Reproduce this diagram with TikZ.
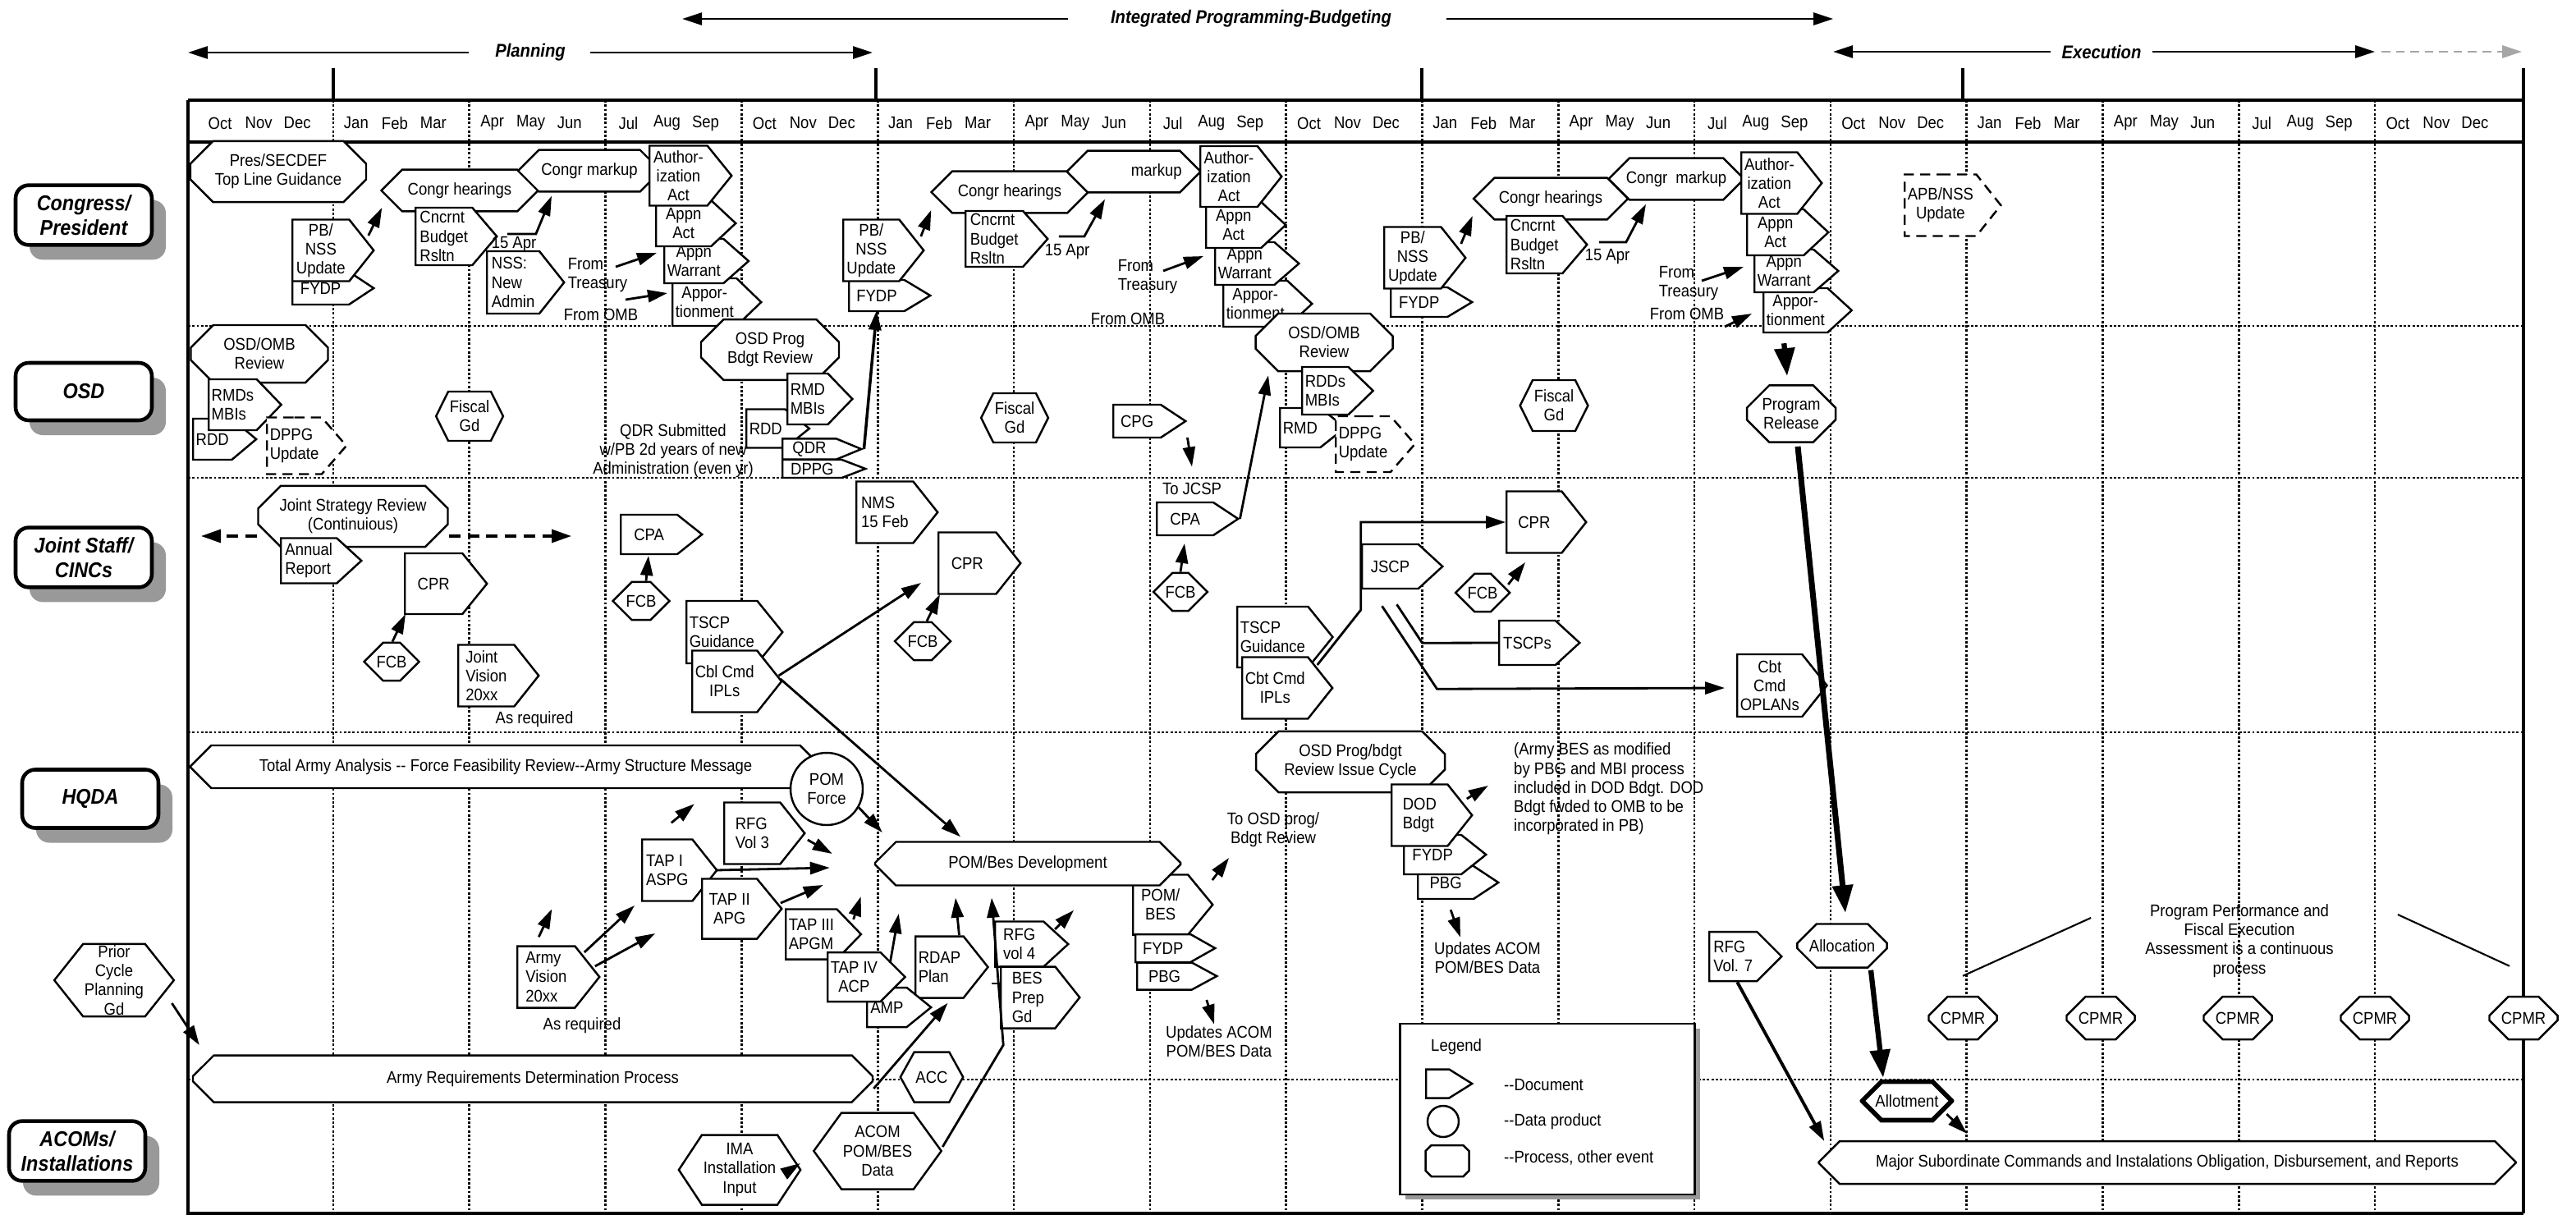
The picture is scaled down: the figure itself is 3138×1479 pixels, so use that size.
\documentclass[tikz,border=0pt]{standalone}
\usepackage{fontspec}
\setmainfont{Liberation Sans}[FakeStretch=0.9]
\usetikzlibrary{shapes.symbols,shapes.misc,arrows.meta,calc,shadows}

\tikzset{
  doc/.style={signal, signal to=east, signal pointer angle=#1, draw, fill=white, line width=0.7pt, inner sep=1pt, anchor=west, align=left},
  doc/.default=100,
  dashdoc/.style={dash pattern=on 3.5pt off 2.2pt},
  hexa/.style={signal, signal to=east and west, signal pointer angle=#1, draw, fill=white, line width=0.7pt, inner sep=0.5pt, align=center},
  hexa/.default=110,
  proc/.style={chamfered rectangle, chamfered rectangle xsep=1.5mm, draw, fill=white, line width=0.7pt, inner sep=1pt, align=center},
  octa/.style={proc, chamfered rectangle xsep=1.1mm},
  datum/.style={circle, draw, fill=white, line width=0.7pt, inner sep=0pt, align=center},
  wh/.style 2 args={minimum width=#1*0.1mm, minimum height=#2*0.1mm},
  lane/.style={draw, rounded corners=1.6mm, line width=1.3pt, fill=white, align=center, font=\fontsize{7.4}{8.6}\selectfont\bfseries\itshape, drop shadow={shadow xshift=1.7mm, shadow yshift=-1.8mm, fill=black!40, opacity=1}},
  phase/.style={font=\fontsize{6.4}{7.4}\selectfont\bfseries\itshape, inner sep=0pt},
  note/.style={align=center, inner sep=1pt},
  month/.style={inner sep=0pt},
  arr/.style={-{Triangle[length=2.4mm,width=1.5mm]}, line width=0.8pt},
  bigarr/.style={-{Triangle[length=3.4mm,width=2.4mm]}, line width=1.8pt},
  dasharr/.style={-{Triangle[length=2.4mm,width=1.6mm]}, line width=0.9pt, dash pattern=on 4pt off 2.5pt},
  lanegrid/.style={dash pattern=on 0.8pt off 0.7pt, line width=0.75pt},
  boxline/.style={line width=1.2pt}
}

\begin{document}
\begin{tikzpicture}[x=0.1mm, y=-0.1mm, every node/.style={font=\fontsize{5.85}{6.6}\selectfont}]

\useasboundingbox (0,0) rectangle (3138,1479);

\foreach \x in {406,1067,1732,2391}
  \draw[line width=1pt] (\x,83) -- (\x,122);
\foreach \y in {397,582,892,1315}
  \draw[lanegrid] (229,\y) -- (3074,\y);
\foreach \k in {0,...,15}
  \draw[lanegrid] (406+165.8*\k,122) -- (406+165.8*\k,1478);
\draw[boxline] (229,122) -- (3074,122);
\draw[boxline] (229,173) -- (3074,173);
\draw[boxline] (229,122) -- (229,1478) -- (3074,1478);
\draw[boxline] (3074,83) -- (3074,1478);

\foreach \i in {0,...,16} {
  \pgfmathtruncatemacro\k{mod(\i,4)}
  \pgfmathsetmacro\qx{398+165.8*(\i-0.5)}
  \node[month] (ma\i) at (\qx-47,150) {\ifcase\k Oct\or Jan\or Apr\or Jul\fi};
  \node[month] (mb\i) at (\qx,150) {\ifcase\k Nov\or Feb\or May\or Aug\fi};
  \node[month] (mc\i) at (\qx+47,150) {\ifcase\k Dec\or Mar\or Jun\or Sep\fi};
}

\node[phase] (plan) at (646,64) {Planning};
\node[phase] (ipb) at (1524,23) {Integrated Programming-Budgeting};
\node[phase] (exe) at (2560,63) {Execution};
\coordinate (planL) at (229,64);
\coordinate (planR) at (1063,64);
\coordinate (ipbL) at (831,23);
\coordinate (ipbR) at (2233,23);
\coordinate (exeL) at (2233,63);
\coordinate (exeR) at (2893,63);
\coordinate (exeG) at (3072,63);
\draw[arr] ($(plan.west)+(-32,0)$) -- (planL);
\draw[arr] ($(plan.east)+(30,0)$) -- (planR);
\draw[arr] ($(ipb.west)+(-51,0)$) -- (ipbL);
\draw[arr] ($(ipb.east)+(66,0)$) -- (ipbR);
\draw[arr] ($(exe.west)+(-13,0)$) -- (exeL);
\draw[arr] ($(exe.east)+(13,0)$) -- (exeR);
\draw[arr, black!35, dash pattern=on 3pt off 2pt] ($(exeR)+(8,0)$) -- (exeG);

\node[lane, wh={166}{70}] (lcong) at (102,262) {Congress/\\President};
\node[lane, wh={166}{70}] (losd) at (102,477) {OSD};
\node[lane, wh={166}{72}] (ljoint) at (102,679) {Joint Staff/\\CINCs};
\node[lane, wh={166}{71}] (lhqda) at (110,973) {HQDA};
\node[lane, wh={166}{72}] (lacom) at (94,1402) {ACOMs/\\Installations};

\node[proc, wh={214}{58}] (tlg) at (339,209) {Pres/SECDEF\\Top Line Guidance};
\node[proc, wh={191}{42}] (hear1) at (560,232) {Congr hearings};
\node[proc, wh={174}{41}] (markup1) at (718,208) {Congr markup};
\node[doc=67, wh={99}{40}, align=center] (fydp1) at (355,351) {FYDP};
\node[doc=103, wh={99}{75}, align=center] (pbnss1) at (355,305) {PB/\\NSS\\Update};
\node[doc=99, wh={99}{70}] (cbr1) at (505,288) {Cncrnt\\Budget\\Rsltn};
\node[doc=103, wh={94}{76}] (nss) at (592,344) {NSS:\\New\\Admin};
\node[note] (apr1) at (626,298) {15 Apr};
\node[note, align=left] (treas1) at (728,335) {From\\Treasury};
\node[note] (omb1) at (732,383) {From OMB};
\node[doc=88, wh={97}{58}, align=center] (apport1) at (818,368) {Appor-\\tionment};
\node[doc=83, wh={97}{54}, align=center] (warr1) at (808,318) {Appn\\Warrant};
\node[doc=86, wh={97}{56}, align=center] (appn1) at (798,272) {Appn\\Act};
\node[doc=102, wh={100}{73}, align=center] (auth1) at (790,214) {Author-\\ization\\Act};

\node[proc, wh={191}{43}] (hear2) at (1230,234) {Congr hearings};
\node[proc, wh={163}{42}] (markup2) at (1381,209) {\phantom{Congr }markup};
\node[doc=62, wh={99}{38}, align=center] (fydp2) at (1033,360) {FYDP};
\node[doc=103, wh={98}{75}, align=center] (pbnss2) at (1026,305) {PB/\\NSS\\Update};
\node[doc=97, wh={100}{68}] (cbr2) at (1175,291) {Cncrnt\\Budget\\Rsltn};
\node[note] (apr2) at (1300,307) {15 Apr};
\node[note, align=left] (treas2) at (1398,337) {From\\Treasury};
\node[note] (omb2) at (1374,388) {From OMB};
\node[doc=86, wh={101}{56}, align=center] (apport2) at (1489,370) {Appor-\\tionment};
\node[doc=82, wh={97}{52}, align=center] (warr2) at (1479,321) {Appn\\Warrant};
\node[doc=86, wh={97}{56}, align=center] (appn2) at (1468,274) {Appn\\Act};
\node[doc=103, wh={99}{74}, align=center] (auth2) at (1461,215) {Author-\\ization\\Act};

\node[proc, wh={188}{41}] (hear3) at (1889,242) {Congr hearings};
\node[proc, wh={165}{42}] (markup3) at (2042,218) {Congr\ \ markup};
\node[doc=62, wh={99}{36}, align=center] (fydp3) at (1693,368) {FYDP};
\node[doc=103, wh={99}{75}, align=center] (pbnss3) at (1685,314) {PB/\\NSS\\Update};
\node[doc=99, wh={98}{70}] (cbr3) at (1834,298) {Cncrnt\\Budget\\Rsltn};
\node[note] (apr3) at (1958,313) {15 Apr};
\node[note, align=left] (treas3) at (2057,345) {From\\Treasury};
\node[note] (omb3) at (2055,382) {From OMB};
\node[doc=85, wh={99}{54}, align=center] (apport3) at (2147,378) {Appor-\\tionment};
\node[doc=82, wh={100}{52}, align=center] (warr3) at (2136,330) {Appn\\Warrant};
\node[doc=86, wh={99}{56}, align=center] (appn3) at (2127,283) {Appn\\Act};
\node[doc=103, wh={98}{75}, align=center] (auth3) at (2120,223) {Author-\\ization\\Act};
\node[doc=103, dashdoc, wh={105}{75}, align=center] (apb) at (2319,250) {APB/NSS\\Update};

\draw[arr] ($(pbnss1.east)+(-8,-18)$) -- ($(hear1.west)+(2,21)$);
\draw[arr] ($(cbr1.east)+(11,-3)$) -- ++(35,0) -- ($(markup1.south)+(-46,4)$);
\draw[arr] ($(treas1.center)+(22,-10)$) -- ($(warr1.west)+(-8,-10)$);
\draw[arr] ($(omb1.center)+(30,-18)$) -- ($(apport1.west)+(-5,-11)$);
\draw[arr] ($(pbnss2.east)+(-5,-17)$) -- ($(hear2.west)+(1,22)$);
\draw[arr] ($(cbr2.east)+(12,-3)$) -- ++(31,0) -- ($(markup2.south)+(-35,7)$);
\draw[arr] ($(treas2.center)+(19,-7)$) -- ($(warr2.west)+(-13,-9)$);
\draw[arr] ($(pbnss3.east)+(-7,-17)$) -- ($(hear3.west)+(0,21)$);
\draw[arr] ($(cbr3.east)+(13,-3)$) -- ++(33,0) -- ($(markup3.south)+(-37,4)$);
\draw[arr] ($(treas3.center)+(16,-3)$) -- ($(warr3.west)+(-12,-5)$);
\draw[arr] ($(omb3.center)+(46,16)$) -- ($(apport3.west)+(-13,4)$);

\node[proc, wh={167}{58}] (osdomb1) at (316,431) {OSD/OMB\\Review};
\node[doc=80, wh={59}{50}] (rdd1) at (234,535) {RDD};
\node[doc=92, wh={79}{62}] (rmds1) at (253,493) {RMDs\\MBIs};
\node[doc=98, dashdoc, wh={84}{69}] (dppg1) at (324,543) {DPPG\\Update};
\node[hexa=127, wh={70}{60}] (fiscal1) at (572,507) {Fiscal\\Gd};
\node[note] (qdrtxt) at (820,549) {QDR Submitted\\w/PB 2d years of new\\Administration (even yr)};
\node[proc, wh={168}{58}] (osdprog) at (938,426) {OSD Prog\\Bdgt Review};
\node[doc=77, wh={58}{47}] (rdd2) at (908,522) {RDD};
\node[doc=92, wh={74}{62}] (rmd2) at (958,486) {RMD\\MBIs};
\node[doc=45, wh={96}{23}] (qdr) at (952,547) {QDR};
\node[doc=42, wh={101}{22}] (dppg2) at (952,571) {DPPG};
\node[hexa=127, wh={70}{60}] (fiscal2) at (1236,509) {Fiscal\\Gd};
\node[doc=67, wh={88}{40}, align=center] (cpg) at (1355,513) {CPG};
\node[proc, wh={167}{58}] (osdomb2) at (1613,417) {OSD/OMB\\Review};
\node[doc=77, wh={67}{48}] (rmd3) at (1558,521) {RMD};
\node[doc=88, wh={77}{58}] (rdds3) at (1585,476) {RDDs\\MBIs};
\node[doc=98, dashdoc, wh={87}{68}] (dppg3) at (1626,541) {DPPG\\Update};
\node[hexa=127, wh={69}{62}] (fiscal3) at (1893,494) {Fiscal\\Gd};
\node[proc, wh={108}{58}] (release) at (2182,504) {Program\\Release};

\node[proc, wh={231}{52}] (jsr) at (430,629) {Joint Strategy Review\\(Continuious)};
\coordinate (jsrL) at (245,653);
\coordinate (jsrR) at (696,653);
\node[doc=85, wh={98}{55}] (annual) at (341,683) {Annual\\Report};
\node[doc=102, wh={100}{74}, align=center] (cpr1) at (492,711) {CPR};
\node[octa, wh={67}{45}] (fcb1) at (477,806) {FCB};
\node[doc=103, wh={98}{75}] (jv) at (557,823) {Joint\\Vision\\20xx};
\node[note] (asreq1) at (651,876) {As required};
\node[doc=77, wh={99}{48}, align=center] (cpa1) at (755,651) {CPA};
\node[octa, wh={69}{45}] (fcb2) at (781,732) {FCB};
\node[doc=102, wh={98}{76}] (tscp1) at (835,770) {TSCP\\Guidance};
\node[doc=103, wh={99}{75}, align=center] (cbl) at (842,830) {Cbl Cmd\\IPLs};
\node[doc=103, wh={99}{75}] (nms) at (1042,624) {NMS\\15 Feb};
\node[doc=103, wh={100}{75}, align=center] (cpr2) at (1142,686) {CPR};
\node[octa, wh={68}{45}] (fcb3) at (1124,781) {FCB};
\node[note] (tojcsp) at (1452,595) {To JCSP};
\node[doc=67, wh={99}{40}, align=center] (cpa2) at (1408,632) {CPA};
\node[octa, wh={63}{45}] (fcb4) at (1438,721) {FCB};
\node[doc=102, wh={99}{74}] (tscp2) at (1506,776) {TSCP\\Guidance};
\node[doc=103, wh={99}{75}, align=center] (cbt) at (1512,838) {Cbt Cmd\\IPLs};
\node[doc=103, wh={97}{75}, align=center] (cpr3) at (1834,636) {CPR};
\node[doc=85, wh={98}{54}, align=center] (jscp) at (1658,690) {JSCP};
\node[octa, wh={66}{45}] (fcb5) at (1806,722) {FCB};
\node[doc=85, wh={98}{54}, align=center] (tscps) at (1825,783) {TSCPs};
\node[doc=103, wh={99}{76}, align=center] (cbtop) at (2115,835) {Cbt\\Cmd\\OPLANs};

\draw[arr, line width=1pt] (qdr.east) -- ($(fydp2.west)+(35,18)$);
\draw[arr] ($(cpg.east)+(0,20)$) -- ($(tojcsp.north)+(0,-15)$);
\draw[arr] (cpa2.east) -- ($(osdomb2.south)+(-68,4)$);
\draw[bigarr] ($(apport3.south)+(-14,12)$) -- ($(release.north)+(-5,-10)$);
\draw[dasharr] ($(jsr.west)+(0,24)$) -- (jsrL);
\draw[dasharr] ($(jsr.east)+(0,24)$) -- (jsrR);
\draw[arr] ($(fcb1.north)+(1,0)$) -- ($(cpr1.west)+(2,37)$);
\draw[arr] ($(fcb2.north)+(6,0)$) -- ($(cpa1.west)+(35,26)$);
\draw[arr] ($(cbl.east)+(-5,-7)$) -- ($(cpr2.west)+(-20,24)$);
\draw[arr] ($(fcb3.north)+(5,0)$) -- ($(cpr2.west)+(3,38)$);
\draw[arr] (fcb4.north) -- ($(cpa2.west)+(35,30)$);
\draw[arr] ($(cbt.east)+(-20,-28)$) -- ++(53,-67) |- (cpr3.west);
\draw[arr] ($(fcb5.east)+(-3,-10)$) -- ($(cpr3.west)+(24,49)$);
\draw[arr] ($(jscp.south)+(-10,20)$) -- ++(67,101) -- ($(cbtop.west)+(-14,3)$);
\draw[line width=0.8pt] ($(jscp.south)+(8,18)$) -- ++(31,47) -- (tscps.west);

\node[proc, wh={768}{52}] (taa) at (616,934) {Total Army Analysis -{}- Force Feasibility Review-{}-Army Structure Message};
\node[datum, minimum size=8.8mm] (pomforce) at (1007,961) {POM\\Force};
\node[doc=101, wh={97}{73}, align=center] (pombes) at (1379,1102) {POM/\\BES};
\node[proc, wh={372}{53}] (pomdev) at (1252,1052) {POM/Bes Development};
\node[doc=59, wh={97}{34}, align=center] (fydp4) at (1382,1155) {FYDP};
\node[doc=57, wh={97}{33}, align=center] (pbg1) at (1384,1189) {PBG};
\node[doc=103, wh={98}{75}] (rfg3) at (881,1015) {RFG\\Vol 3};
\node[doc=103, wh={91}{75}] (tap1) at (781,1060) {TAP I\\ASPG};
\node[doc=101, wh={97}{73}, align=center] (tap2) at (854,1107) {TAP II\\APG};
\node[doc=92, wh={82}{61}] (tap3) at (956,1138) {TAP III\\APGM};
\node[doc=103, wh={82}{75}] (rdap) at (1114,1178) {RDAP\\Plan};
\node[doc=78, wh={78}{48}, align=center] (amp) at (1055,1227) {AMP};
\node[doc=90, wh={84}{60}, align=center] (tap4) at (1007,1190) {TAP IV\\ACP};
\node[doc=85, wh={89}{55}] (rfg4) at (1211,1150) {RFG\\vol 4};
\node[doc=103, wh={96}{75}] (bes) at (1218,1215) {BES\\Prep\\Gd};
\node[note] (tosd) at (1551,1011) {To OSD prog/\\Bdgt Review};
\node[note] (upd1) at (1485,1269) {Updates ACOM\\POM/BES Data};
\node[proc, wh={230}{51}] (osdrev) at (1645,928) {OSD Prog/bdgt\\Review Issue Cycle};
\node[doc=67, wh={98}{40}, align=center] (pbg2) at (1726,1075) {PBG};
\node[doc=77, wh={100}{48}, align=center] (fydp5) at (1709,1041) {FYDP};
\node[doc=103, wh={98}{75}] (dod) at (1694,993) {DOD\\Bdgt};
\node[note, align=left, anchor=west] (armybes) at (1840,961) {(Army BES as modified\\by PBG and MBI process\\included in DOD Bdgt. DOD\\Bdgt fwded to OMB to be\\incorporated in PB)};
\node[note] (upd2) at (1812,1167) {Updates ACOM\\POM/BES Data};
\node[hexa=103, wh={117}{86}] (prior) at (139,1194) {Prior\\Cycle\\Planning\\Gd};
\node[doc=103, wh={100}{75}] (av) at (629,1190) {Army\\Vision\\20xx};
\node[note] (asreq2) at (709,1249) {As required};
\node[doc=90, wh={88}{60}] (rfg7) at (2081,1165) {RFG\\Vol. 7};
\node[octa, wh={106}{53}] (alloc) at (2244,1152) {Allocation};
\node[note] (ppf) at (2728,1146) {Program Performance and\\Fiscal Execution\\Assessment is a continuous\\process};
\foreach \x [count=\n] in {2391,2559,2726,2893,3074}
  \node[octa, wh={76}{52}] (cpmr\n) at (\x,1240) {CPMR};

\node[draw, fill=white, line width=0.8pt, wh={359}{208}, drop shadow={shadow xshift=0.6mm, shadow yshift=-0.6mm, fill=black!40, opacity=1}] (legend) at (1885,1351) {};
\node[note, anchor=west] (legtitle) at (1739,1275) {Legend};
\node[doc=64, wh={56}{35}] (legdoc) at (1736,1320) {};
\node[datum, minimum size=3.8mm] (legdata) at (1758,1366) {};
\node[octa, wh={53}{38}] (legproc) at (1763,1414) {};
\node[note, anchor=west] (legdoctxt) at (1828,1322) {-{}-Document};
\node[note, anchor=west] (legdatatxt) at (1828,1366) {-{}-Data product};
\node[note, anchor=west] (legproctxt) at (1828,1410) {-{}-Process, other event};

\node[proc, wh={828}{57}] (ardp) at (649,1314) {Army Requirements Determination Process};
\node[hexa=122, wh={70}{61}] (acc) at (1135,1312) {ACC};
\node[hexa=113, wh={135}{85}] (ima) at (901,1425) {IMA\\Installation\\Input};
\node[hexa=108, wh={130}{93}] (acompom) at (1069,1402) {ACOM\\POM/BES\\Data};
\node[octa, line width=1.6pt, wh={109}{42}] (allot) at (2323,1341) {Allotment};
\node[proc, wh={849}{52}] (msc) at (2640,1416) {Major Subordinate Commands and Instalations Obligation, Disbursement, and Reports};

\draw[arr] ($(cbl.east)+(-3,-3)$) -- ($(pomdev.north)+(-82,-5)$);
\draw[arr] (pomforce.-30) -- ($(pomdev.west)+(10,-38)$);
\draw[arr] ($(rfg3.east)+(2,8)$) -- ($(pomdev.west)+(-51,-12)$);
\draw[arr] ($(tap1.east)+(-3,0)$) -- ($(pomdev.west)+(-54,5)$);
\draw[arr] ($(tap2.east)+(-3,-7)$) -- ($(pomdev.west)+(-62,26)$);
\draw[arr] ($(tap3.east)+(-11,-18)$) -- ($(pomdev.west)+(-16,40)$);
\draw[arr] ($(tap4.east)+(-20,-17)$) -- ($(pomdev.west)+(30,61)$);
\draw[arr] ($(rdap.north)+(24,0)$) -- ($(pomdev.south)+(-88,14)$);
\draw[arr] ($(rfg4.east)+(-18,-18)$) -- ($(pomdev.south)+(56,29)$);
\draw[arr] ($(ardp.east)+(0,12)$) -- ($(rdap.south)+(10,5)$);
\draw[arr] ($(acompom.east)+(0,-5)$) -- ++(74,-124) -- ($(pomdev.south)+(-44,14)$);
\draw[line width=0.8pt] ($(bes.west)+(-10,-17)$) -- ($(bes.west)+(0,-17)$);
\draw[arr] ($(ima.east)+(-11,-2)$) -- ($(acompom.west)+(-15,15)$);
\draw[arr] ($(prior.east)+(-4,28)$) -- ($(ardp.west)+(9,-41)$);
\draw[arr] ($(av.north)+(-9,-10)$) -- ($(av.north)+(7,-44)$);
\draw[arr] ($(av.east)+(-20,-30)$) -- ($(tap1.west)+(-8,43)$);
\draw[arr] ($(av.east)+(-7,-13)$) -- ($(tap2.west)+(-56,30)$);
\draw[arr] ($(tap1.north)+(5,-19)$) -- ($(tap1.north)+(33,-42)$);
\draw[arr] ($(pombes.east)+(-2,-30)$) -- ($(tosd.center)+(-54,34)$);
\draw[arr] ($(pbg1.east)+(-15,29)$) -- ($(upd1.north)+(-6,2)$);
\draw[arr] ($(dod.east)+(-8,-20)$) -- ($(dod.east)+(18,-36)$);
\draw[arr] ($(pbg2.south)+(6,12)$) -- ($(upd2.north)+(-33,-2)$);
\draw[bigarr, line width=2pt] ($(release.south)+(8,4)$) -- ($(alloc.north)+(4,-12)$);
\draw[arr, line width=1.1pt] ($(rfg7.south)+(5,0)$) -- ($(msc.west)+(8,-26)$);
\draw[bigarr] ($(alloc.south)+(35,2)$) -- ($(allot.north)+(-29,-2)$);
\draw[arr] ($(allot.east)+(-9,16)$) -- ($(msc.north)+(-244,-8)$);
\draw[line width=0.6pt] ($(cpmr1.north)+(0,-24)$) -- ($(ppf.west)+(-62,-28)$);
\draw[line width=0.6pt] ($(ppf.east)+(74,-32)$) -- ($(cpmr5.north)+(-17,-36)$);

\end{tikzpicture}
\end{document}
